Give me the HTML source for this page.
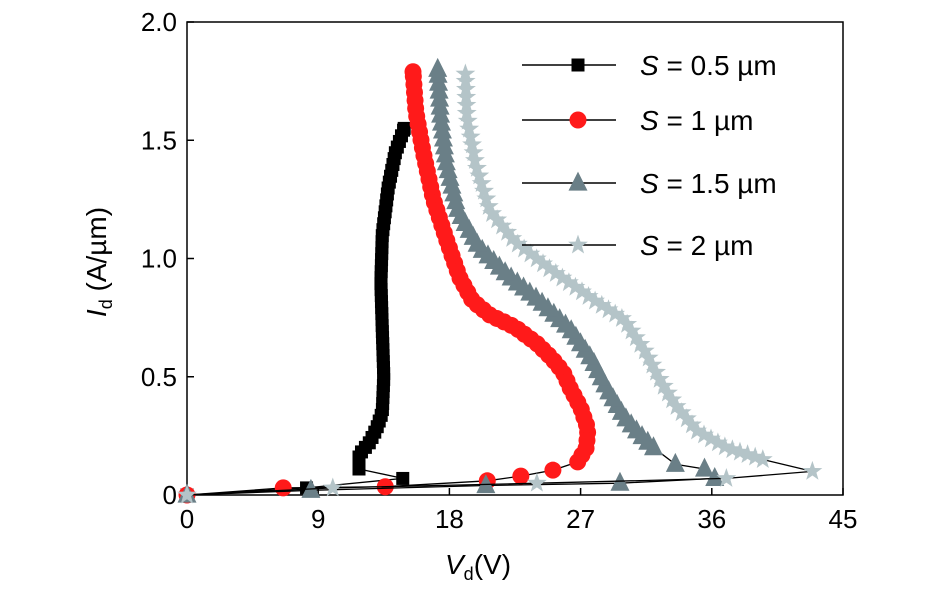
<!DOCTYPE html>
<html><head><meta charset="utf-8"><style>
body{margin:0;background:#fff}
svg{display:block;font-family:"Liberation Sans",sans-serif}
</style></head><body>
<svg id="chart" width="945" height="590" viewBox="0 0 945 590">
<g id="axes"></g>
<g id="series"></g>
<g id="legend"></g>
</svg>
<script>
const xTicks=[0,9,18,27,36,45];
const yTicks=[0,0.5,1.0,1.5,2.0];
const yTickLabels=["0","0.5","1.0","1.5","2.0"];
const seriesNames=["S = 0.5 µm","S = 1 µm","S = 1.5 µm","S = 2 µm"];
// sparse-marked segment (tail) and densely-marked segment (curve), [V, I]
const tail05=[[0,0],[8.2,0.03],[14.8,0.07]];
const curve05=[[11.8,0.11],[11.8,0.17],[12.5,0.22],[13,0.28],[13.4,0.35],[13.5,0.5],[13.4,0.7],[13.3,0.9],[13.4,1.1],[13.8,1.3],[14.3,1.45],[14.9,1.55]];
const tail1=[[0,0],[6.6,0.03],[13.6,0.035],[20.6,0.06],[22.9,0.08],[25.1,0.105]];
const curve1=[[26.8,0.14],[27.4,0.2],[27.5,0.28],[27,0.37],[26.3,0.45],[25.8,0.52],[25,0.58],[24,0.64],[22.5,0.71],[20.8,0.76],[19.6,0.82],[18.7,0.92],[17.8,1.08],[16.9,1.25],[16.2,1.45],[15.7,1.62],[15.5,1.79]];
const tail15=[[0,0],[8.5,0.02],[20.5,0.04],[29.7,0.05],[36.2,0.07],[35.5,0.11],[33.5,0.13]];
const curve15=[[32,0.2],[31,0.26],[30,0.33],[28.8,0.45],[27.8,0.57],[26.3,0.7],[24.2,0.82],[22,0.93],[20,1.05],[18.6,1.2],[17.8,1.4],[17.4,1.6],[17.2,1.8]];
const tail2=[[0,0],[10,0.03],[24,0.05],[37,0.07],[42.9,0.1]];
const curve2=[[39.5,0.15],[37,0.2],[35,0.27],[33.5,0.38],[32.5,0.48],[31.5,0.6],[30,0.74],[28,0.82],[25,0.95],[22.5,1.07],[20.8,1.2],[19.8,1.4],[19.2,1.6],[19.1,1.78]];

const L=187,R=843,T=22,B=495;
const xs=v=>L+(v/45)*(R-L);
const ys=v=>B-(v/2)*(B-T);
const NS="http://www.w3.org/2000/svg";
function mk(tag,attrs,parent){const e=document.createElementNS(NS,tag);for(const k in attrs)e.setAttribute(k,attrs[k]);parent.appendChild(e);return e;}
const axes=document.getElementById('axes');
const box=mk('rect',{x:L,y:T,width:R-L,height:B-T,fill:'none',stroke:'#000','stroke-width':1.5},axes);


xTicks.forEach(t=>{
  const l=mk('line',{x1:xs(t),x2:xs(t),y1:B,y2:B-7,stroke:'#000','stroke-width':1.5},axes);
  
  
  const tx=mk('text',{x:xs(t),y:B+33,'text-anchor':'middle','font-size':26},axes);
  tx.textContent=t;
  
  
});
yTicks.forEach((t,i)=>{
  const l=mk('line',{x1:L,x2:L+7,y1:ys(t),y2:ys(t),stroke:'#000','stroke-width':1.5},axes);
  
  
  const tx=mk('text',{x:L-10,y:ys(t)+9,'text-anchor':'end','font-size':26},axes);
  tx.textContent=yTickLabels[i];
  
  
});
const xl=mk('text',{x:478,y:574,'text-anchor':'middle','font-size':28},axes);
xl.innerHTML='<tspan font-style="italic">V</tspan><tspan font-size="18" dy="6">d</tspan><tspan dy="-6">(V)</tspan>';


const yl=mk('text',{x:0,y:0,'text-anchor':'middle','font-size':28,transform:'translate(106,262) rotate(-90)'},axes);
yl.innerHTML='<tspan font-style="italic">I</tspan><tspan font-size="18" dy="6">d</tspan><tspan dy="-6"> (A/µm)</tspan>';



const styles=[{c:'#000',m:'sq',s:13},{c:'#ff1a1a',m:'ci',s:17},{c:'#6a7f87',m:'tr',s:19},{c:'#b4c4c8',m:'st',s:19}];
function marker(g,x,y,st){
  let e;
  if(st.m==='sq')e=mk('rect',{x:x-st.s/2,y:y-st.s/2,width:st.s,height:st.s,fill:st.c},g);
  else if(st.m==='ci')e=mk('circle',{cx:x,cy:y,r:st.s/2,fill:st.c},g);
  else if(st.m==='tr'){const h=st.s;e=mk('polygon',{points:`${x},${y-h*0.6} ${x-h/2},${y+h*0.4} ${x+h/2},${y+h*0.4}`,fill:st.c},g);}
  else{let p=[];for(let k=0;k<10;k++){const r=k%2?st.s*0.22:st.s*0.55,a=-Math.PI/2+k*Math.PI/5;p.push((x+r*Math.cos(a)).toFixed(1)+','+(y+r*Math.sin(a)).toFixed(1));}e=mk('polygon',{points:p.join(' '),fill:st.c},g);}
  
  
}
const sg=document.getElementById('series');
const all=[[tail05,curve05],[tail1,curve1],[tail15,curve15],[tail2,curve2]];
all.forEach(([tail,curve],i)=>{
  const st=styles[i];
  const g=mk('g',{},sg);
  
  
  const pts=tail.concat(curve);
  const d='M'+pts.map(p=>xs(p[0]).toFixed(1)+','+ys(p[1]).toFixed(1)).join(' L');
  const path=mk('path',{d:d,fill:'none',stroke:'#000','stroke-width':1.3},g);
  
  
  tail.forEach(p=>marker(g,xs(p[0]),ys(p[1]),st));
  const cd='M'+curve.map(p=>xs(p[0]).toFixed(1)+','+ys(p[1]).toFixed(1)).join(' L');
  const cp=mk('path',{d:cd,fill:'none',stroke:'none'},g);
  const len=cp.getTotalLength();
  const step=i===0?6:8;
  for(let s=0;s<=len;s+=step){const q=cp.getPointAtLength(s);marker(g,q.x,q.y,st);}
  const q=cp.getPointAtLength(len);marker(g,q.x,q.y,st);
});
const lg=document.getElementById('legend');
const ly=[65,120,183,245];
seriesNames.forEach((n,i)=>{
  const g=mk('g',{},lg);
  
  
  mk('line',{x1:522,x2:616,y1:ly[i],y2:ly[i],stroke:'#000','stroke-width':1.5},g);
  marker(g,578,ly[i],styles[i]);
  const t=mk('text',{x:640,y:ly[i]+10,'font-size':28},g);
  t.innerHTML='<tspan font-style="italic">S</tspan>'+n.slice(1);
});
</script>
</body></html>
